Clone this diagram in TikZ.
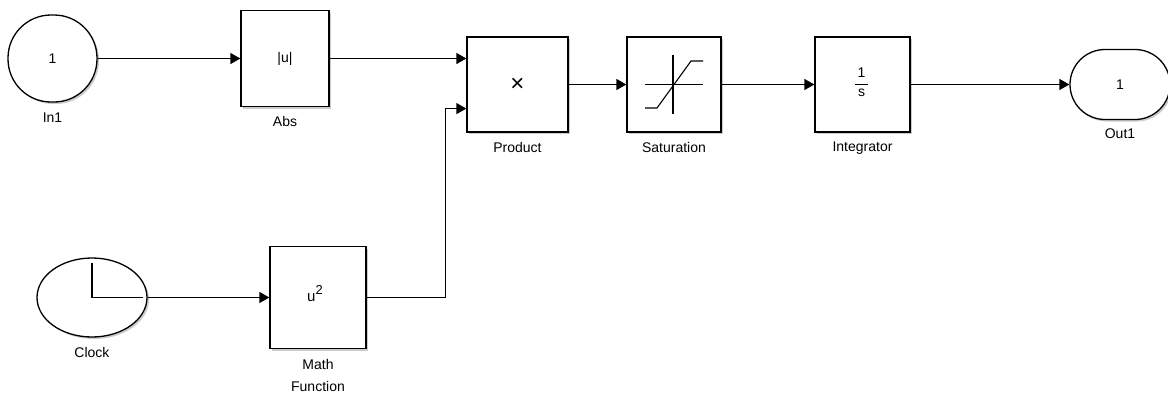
\documentclass[tikz,border=0pt]{standalone}
\usepackage{fontspec}
\setmainfont{Liberation Sans}
\usetikzlibrary{arrows.meta,shadows,calc,shapes.geometric}
\begin{document}
\begin{tikzpicture}[x=1pt,y=-1pt,
  blk/.style={draw, line width=1.3pt, fill=white, inner sep=0pt, font=\fontsize{14}{16}\selectfont,
    drop shadow={shadow xshift=2pt, shadow yshift=-2pt, fill=black!40}},
  lbl/.style={font=\fontsize{14}{22}\selectfont, inner sep=0pt, anchor=base},
  arr/.style={line width=1.3pt, -{Triangle[length=10pt,width=11pt]}},
  icon/.style={line width=1.1pt},
  txt/.style={font=\fontsize{14}{16}\selectfont, inner sep=0pt}
]
\useasboundingbox (0,0) rectangle (1168,394);

% blocks
\node[blk, rounded corners=43pt, minimum width=89pt, minimum height=87pt] (in1) at (52.5,58.5) {1};
\node[blk, minimum width=88pt, minimum height=96pt] (abs) at (285,58.5) {|u|};
\node[blk, minimum width=101pt, minimum height=95pt, font=\fontsize{24}{26}\selectfont] (prod) at (517.5,84.5) {×};
\node[blk, minimum width=94pt, minimum height=95pt] (sat) at (674,84.5) {};
\node[blk, minimum width=95pt, minimum height=95pt] (int) at (862.5,84.5) {};
\node[blk, rounded corners=35pt, minimum width=100pt, minimum height=70pt] (out) at (1120,84.5) {1};
\node[blk, ellipse, minimum width=110pt, minimum height=79pt] (clk) at (92,297.5) {};
\node[blk, minimum width=96pt, minimum height=102pt] (math) at (318,297.5) {};

% labels
\node[lbl] (in1l) at (52.5,122) {In1};
\node[lbl] (absl) at (285,126) {Abs};
\node[lbl] (prodl) at (517.5,152) {Product};
\node[lbl] (satl) at (674,152) {Saturation};
\node[lbl] (intl) at (862.5,151) {Integrator};
\node[lbl] (outl) at (1120,138) {Out1};
\node[lbl] (clkl) at (92,357) {Clock};
\node[lbl, align=center] (mathl) at (318,391) {Math\\Function};

% icons
\draw[icon] ($(sat.center)+(-29,0)$) -- +(58,0);
\draw[icon] ($(sat.center)+(-1,-29.5)$) -- +(0,59);
\draw[icon] ($(sat.center)+(-29,23.5)$) -- +(12,0) -- +(46,-47) -- +(58,-47);
\node[txt] (intnum) at (861.5,73) {1};
\node[txt] (intden) at (861.5,93) {s};
\draw[icon] (855,84.5) -- (868,84.5);
\draw[icon] ($(clk.center)+(0,-35)$) -- (clk.center) -- ($(clk.center)+(51,0)$);
\node[inner sep=0pt, anchor=base, font=\fontsize{15}{17}\selectfont] (mathtxt) at (315,301)
  {u\raisebox{7pt}{\fontsize{13}{15}\selectfont 2}};

% ports
\coordinate (p2) at ($(prod.north west)!0.75!(prod.south west)$);
\coordinate (j) at (445.5,0);

% connectors
\draw[arr] (in1.east) -- (in1.east -| abs.west);
\draw[arr] (abs.east) -- (abs.east -| prod.west);
\draw[arr] (math.east) -- (math.east -| j) |- (p2);
\draw[arr] (clk.east) -- (clk.east -| math.west);
\draw[arr] (prod.east) -- (sat.west);
\draw[arr] (sat.east) -- (int.west);
\draw[arr] (int.east) -- (int.east -| out.west);
\end{tikzpicture}
\end{document}
